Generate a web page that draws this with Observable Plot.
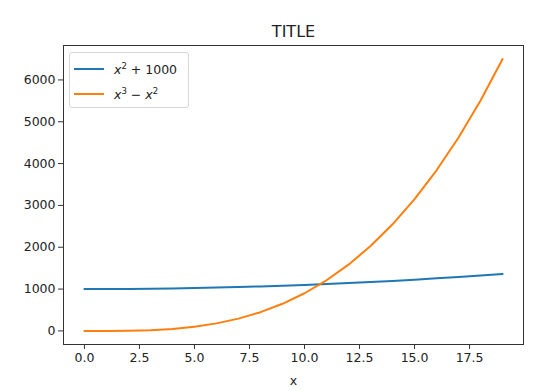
<!DOCTYPE html>
<html>
<head>
<meta charset="utf-8">
<script src="https://cdn.jsdelivr.net/npm/d3@7"></script>
<script src="https://cdn.jsdelivr.net/npm/@observablehq/plot@0.6"></script>
<style>
  html, body { margin: 0; padding: 0; background: #fff; }
  #wrap { position: relative; width: 536px; height: 391px; font-family: "DejaVu Sans", sans-serif; }
  #legend {
    position: absolute; left: 69px; top: 52px; width: 118px; height: 54px;
    border: 1px solid #d6d6d6; border-radius: 3px; background: rgba(255,255,255,0.8);
    font-size: 12.5px; color: #222;
  }
  .entry { position: absolute; left: 4px; height: 16px; display: flex; align-items: center; }
  .swatch { width: 30px; height: 0; border-top: 2px solid; margin-right: 10px; }
  .lbl i { font-style: italic; }
  .lbl sup { font-size: 8.5px; vertical-align: 5px; line-height: 0; }
</style>
</head>
<body>
<div id="wrap"></div>
<script>
const xs = [0,1,2,3,4,5,6,7,8,9,10,11,12,13,14,15,16,17,18,19];
const seriesA = [1000,1001,1004,1009,1016,1025,1036,1049,1064,1081,1100,1121,1144,1169,1196,1225,1256,1289,1324,1361];
const seriesB = [0,0,4,18,48,100,180,294,448,648,900,1210,1584,2028,2548,3150,3840,4624,5508,6498];
const seriesNames = ["x^2 + 1000", "x^3 - x^2"];
const colors = ["#1f77b4", "#ff7f0e"];
const xTicks = [0, 2.5, 5, 7.5, 10, 12.5, 15, 17.5];
const yTicks = [0, 1000, 2000, 3000, 4000, 5000, 6000];
const title = "TITLE";
const xLabel = "x";

const rows = [
  ...xs.map((x, i) => ({x, y: seriesA[i], s: seriesNames[0]})),
  ...xs.map((x, i) => ({x, y: seriesB[i], s: seriesNames[1]}))
];
const ymax = d3.max(rows, d => d.y), ymin = d3.min(rows, d => d.y);
const ypad = (ymax - ymin) * 0.05;
const xpad = (d3.max(xs) - d3.min(xs)) * 0.05;

const chart = Plot.plot({
  width: 536, height: 391,
  marginLeft: 63, marginRight: 13, marginTop: 45, marginBottom: 47,
  style: {fontFamily: "DejaVu Sans, sans-serif", fontSize: "12.5px", color: "#222", background: "#fff"},
  x: {domain: [d3.min(xs) - xpad, d3.max(xs) + xpad]},
  y: {domain: [ymin - ypad, ymax + ypad]},
  color: {domain: seriesNames, range: colors},
  marks: [
    Plot.line(rows, {x: "x", y: "y", z: "s", stroke: "s", strokeWidth: 2}),
    Plot.frame({stroke: "#333", strokeWidth: 1}),
    Plot.axisX({ticks: xTicks, tickFormat: d3.format(".1f"), tickSize: 5, tickPadding: 4, label: null, stroke: "#333", fontSize: 12.5}),
    Plot.axisY({ticks: yTicks, tickFormat: d => String(d), tickSize: 5, tickPadding: 3, label: null, stroke: "#333", fontSize: 12.5}),
    Plot.text([title], {frameAnchor: "top", dy: -14, fontSize: 16, lineAnchor: "middle", fill: "#222"}),
    Plot.text([xLabel], {frameAnchor: "bottom", dy: 36, fontSize: 12.5, lineAnchor: "middle", fill: "#222"})
  ]
});
const wrap = document.getElementById("wrap");
wrap.appendChild(chart);

const legend = document.createElement("div");
legend.id = "legend";
const labelsHtml = ["<i>x</i><sup>2</sup> + 1000", "<i>x</i><sup>3</sup> \u2212 <i>x</i><sup>2</sup>"];
seriesNames.forEach((n, i) => {
  const e = document.createElement("div");
  e.className = "entry";
  e.style.top = (8 + i * 25) + "px";
  e.innerHTML = `<span class="swatch" style="border-color:${colors[i]}"></span><span class="lbl">${labelsHtml[i]}</span>`;
  legend.appendChild(e);
});
wrap.appendChild(legend);
</script>
</body>
</html>
